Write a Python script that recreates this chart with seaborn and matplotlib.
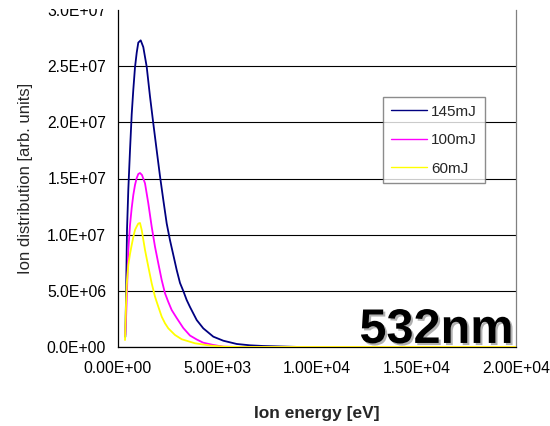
import matplotlib
matplotlib.use("Agg")
import matplotlib.pyplot as plt
import matplotlib.patheffects as pe
from matplotlib.patches import Rectangle
from matplotlib.ticker import FuncFormatter
import numpy as np
import pandas as pd
import seaborn as sns

# Ion energy distributions for three laser pulse energies (532 nm)
series_labels = ["145mJ", "100mJ", "60mJ"]
series_colors = ["#000080", "#FF00FF", "#FFFF00"]

energy_145 = [367, 402, 452, 518, 603, 688, 769, 854, 940, 1020, 1141, 1271, 1442,
              1608, 1774, 1945, 2111, 2276, 2447, 2613, 2779, 2950, 3116, 3281,
              3452, 3618, 3955, 4286, 4789, 5291, 5965, 6633, 7286, 9146, 20000]
dist_145 = [0.9, 4.2, 10.4, 14.0, 17.5, 20.7, 22.9, 24.9, 26.2, 27.1, 27.3, 26.7,
            24.95, 22.3, 19.9, 17.5, 15.2, 13.1, 11.0, 9.5, 8.2, 6.85, 5.7, 4.99,
            4.18, 3.56, 2.40, 1.66, 0.92, 0.56, 0.27, 0.15, 0.09, 0.0, 0.0]

energy_100 = [367, 402, 452, 518, 603, 688, 769, 854, 940, 1020, 1106, 1206, 1357,
              1523, 1693, 1859, 2025, 2196, 2362, 2528, 2698, 2950, 3281, 3618,
              3955, 4286, 4789, 5291, 6131, 20000]
dist_100 = [1.07, 2.40, 5.07, 8.64, 10.86, 12.37, 13.53, 14.42, 15.04, 15.40, 15.49,
            15.31, 14.57, 12.79, 10.71, 8.93, 7.45, 5.96, 4.78, 4.01, 3.29, 2.58,
            1.69, 1.02, 0.67, 0.38, 0.18, 0.03, 0.0, 0.0]

energy_60 = [352, 402, 437, 518, 603, 688, 769, 854, 940, 1020, 1106, 1191, 1357,
             1523, 1693, 1859, 2025, 2196, 2362, 2528, 2864, 3201, 3869, 4623,
             5377, 6131, 20000]
dist_60 = [0.62, 3.74, 5.52, 7.30, 8.28, 9.08, 9.79, 10.42, 10.73, 10.99, 11.04,
           10.42, 8.64, 7.15, 5.67, 4.48, 3.59, 2.70, 2.11, 1.66, 1.07, 0.69, 0.33,
           0.13, 0.02, 0.0, 0.0]

x_ticks = [0, 5000, 10000, 15000, 20000]
y_ticks = [0, 5e6, 1e7, 1.5e7, 2e7, 2.5e7, 3e7]

frames = []
for lab, e, d in zip(series_labels, [energy_145, energy_100, energy_60],
                     [dist_145, dist_100, dist_60]):
    frames.append(pd.DataFrame({"energy": e, "dist": np.array(d) * 1e6, "pulse": lab}))
df = pd.concat(frames, ignore_index=True)

sns.set_style("white")
plt.rcParams["font.family"] = ["Liberation Sans", "DejaVu Sans"]

fig = plt.figure(figsize=(5.5, 4.26), dpi=100)
ax = fig.add_axes([118 / 550, 79 / 426, 398 / 550, 337 / 426])

sns.lineplot(data=df, x="energy", y="dist", hue="pulse", hue_order=series_labels,
             palette=series_colors, estimator=None, sort=False, linewidth=1.3,
             ax=ax, zorder=3)

ax.set_xlim(0, 20000)
ax.set_ylim(0, 3e7)
ax.set_xticks(x_ticks)
ax.set_yticks(y_ticks)
ax.xaxis.set_major_formatter(FuncFormatter(lambda v, p: f"{v:.2E}"))
ax.yaxis.set_major_formatter(FuncFormatter(lambda v, p: f"{v:.1E}"))
ax.tick_params(axis="x", direction="in", length=3, width=0.8, color="#808080",
               pad=10, labelsize=11.3, labelcolor="black")
ax.tick_params(axis="y", direction="in", length=0, pad=8.5, labelsize=11.3,
               labelcolor="black")

ax.grid(axis="y", color="black", linewidth=0.8)
ax.grid(axis="x", visible=False)
ax.set_axisbelow(True)
# no rule along the top edge of the plot
ax.yaxis.get_gridlines()[-1].set_visible(False)

ax.spines["top"].set_visible(False)
ax.spines["left"].set_color("black")
ax.spines["left"].set_linewidth(0.9)
ax.spines["bottom"].set_color("black")
ax.spines["bottom"].set_linewidth(0.9)
ax.spines["right"].set_color("#808080")
ax.spines["right"].set_linewidth(0.9)

ax.set_ylabel("Ion distribution [arb. units]", fontsize=12, labelpad=10)
ax.set_xlabel("Ion energy [eV]", fontsize=12.5, fontweight="bold", labelpad=22)

leg = ax.legend(loc="upper left", bbox_to_anchor=(0.666, 0.742), borderaxespad=0,
                fontsize=11, frameon=True, fancybox=False, edgecolor="#707070",
                handlelength=2.35, handletextpad=0.3, labelspacing=0.95,
                borderpad=0.5, title=None)
leg.get_frame().set_linewidth(1.0)
for line in leg.get_lines():
    line.set_linewidth(1.0)

ax.text(0.993, 0.012, "532nm", transform=ax.transAxes, ha="right", va="baseline",
        fontsize=35, fontweight="bold", color="black", zorder=5,
        path_effects=[pe.SimplePatchShadow(offset=(1.5, -1.5), shadow_rgbFace="#909090",
                                           alpha=0.7), pe.Normal()])

fig.add_artist(Rectangle((0, 1 - 9 / 426), 1, 9 / 426, transform=fig.transFigure,
                         facecolor="white", edgecolor="none", zorder=20))

fig.savefig("out.png", dpi=100)
